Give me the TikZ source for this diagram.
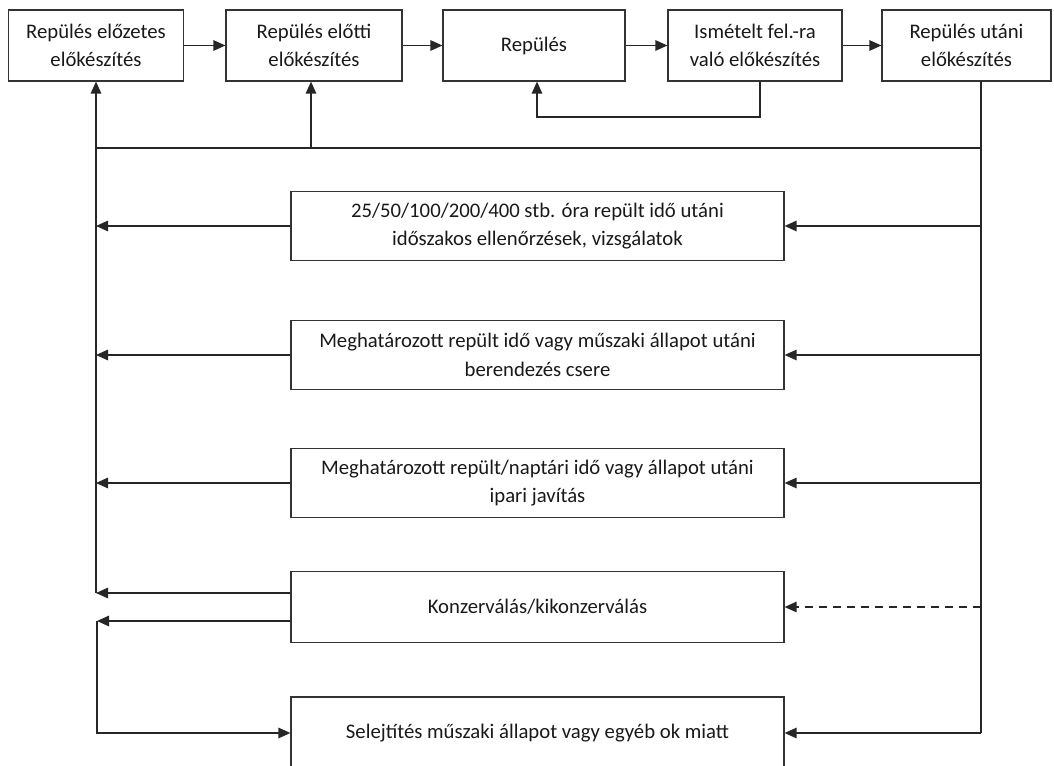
\documentclass[tikz,border=0pt]{standalone}
\usepackage{fontspec}
\setmainfont{Carlito}
\usetikzlibrary{arrows.meta}
\begin{document}
\begin{tikzpicture}[x=1bp,y=-1bp,
 box/.style={draw=black!80, line width=1.2bp, align=center, inner sep=0pt, font=\fontsize{20.8}{28.5}\selectfont, text=black!90},
 topbox/.style={box, minimum height=71bp},
 midbox/.style={box, minimum width=493bp, minimum height=69bp},
 arr/.style={draw=black!85, line width=1.4bp, -{Triangle[length=12bp,width=10.5bp]}},
 ln/.style={draw=black!85, line width=1.4bp}]
\useasboundingbox (0,0) rectangle (1054,766);
\clip (0,0) rectangle (1054,766);
% top row
\node[topbox, minimum width=175bp] (b1) at (96,45.5) {Repülés előzetes\\előkészítés};
\node[topbox, minimum width=176bp] (b2) at (314,45.5) {Repülés előtti\\előkészítés};
\node[topbox, minimum width=182bp] (b3) at (534,45.5) {Repülés};
\node[topbox, minimum width=174bp] (b4) at (755,45.5) {Ismételt fel.-ra\\való előkészítés};
\node[topbox, minimum width=169bp] (b5) at (966.5,45.5) {Repülés utáni\\előkészítés};
% middle boxes
\node[midbox] (mA) at (537.5,226) {25/50/100/200/400 stb. óra repült idő utáni\\időszakos ellenőrzések, vizsgálatok};
\node[midbox] (mB) at (537.5,355) {Meghatározott repült idő vagy műszaki állapot utáni\\berendezés csere};
\node[midbox] (mC) at (537.5,483) {Meghatározott repült/naptári idő vagy állapot utáni\\ipari javítás};
\node[midbox, minimum height=71bp] (mD) at (537.5,607) {Konzerválás/kikonzerválás};
\node[midbox, minimum height=72bp] (mE) at (537.5,733) {Selejtítés műszaki állapot vagy egyéb ok miatt};
% top arrows
\draw[arr] (b1) -- (b2);
\draw[arr] (b2) -- (b3);
\draw[arr] (b3) -- (b4);
\draw[arr] (b4) -- (b5);
% loop
\coordinate (l1) at (760,117);
\coordinate (l2) at (537,117);
\draw[arr] (l1 |- b4.south) -- (l1) -- (l2) -- (l2 |- b3.south);
% coordinates of bus lines
\coordinate (L) at (96,593);
\coordinate (Lb) at (97,621);
\coordinate (R) at (981,733);
\coordinate (Rtop) at (981,81);
\coordinate (H1) at (96,148);
\coordinate (H2) at (981,148);
\coordinate (U2) at (311,148);
% left bus
\draw[arr] (L) -- (b1.south);
\draw[ln] (H1) -- (H2);
\draw[arr] (U2) -- (U2 |- b2.south);
% right bus
\draw[ln] (Rtop) -- (R);
% left arrows
\draw[arr] (mA.west) -- (mA.west -| L);
\draw[arr] (mB.west) -- (mB.west -| L);
\draw[arr] (mC.west) -- (mC.west -| L);
\draw[arr] (mD.west |- L) -- (L);
\draw[arr] (mD.west |- Lb) -- (Lb);
\draw[arr] (Lb) -- (Lb |- mE.west) -- (mE.west);
% right arrows
\draw[arr] (mA.east -| R) -- (mA.east);
\draw[arr] (mB.east -| R) -- (mB.east);
\draw[arr] (mC.east -| R) -- (mC.east);
\draw[arr, dashed, dash pattern=on 8bp off 6bp] (mD.east -| R) -- (mD.east);
\draw[arr] (R) -- (mE.east);
\end{tikzpicture}
\end{document}
